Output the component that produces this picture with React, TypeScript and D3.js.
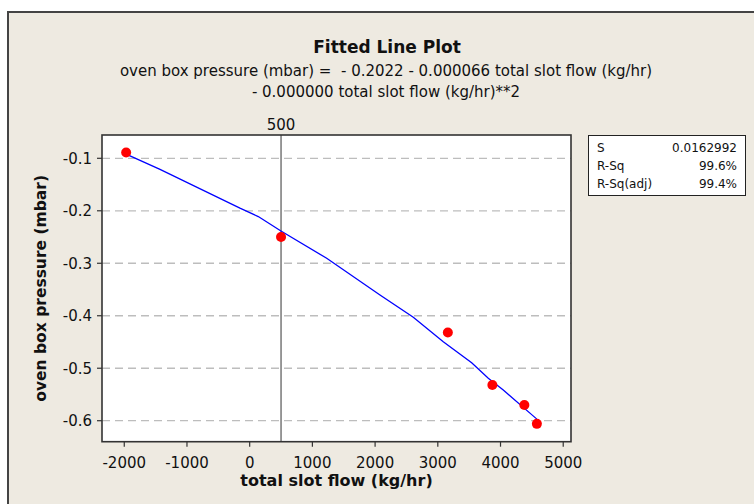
import * as d3 from 'd3';
import React from 'react';

// observed points (total slot flow, oven box pressure)
const flow = [-1970, 500, 3160, 3870, 4380, 4580];
const pressure = [-0.089, -0.25, -0.432, -0.532, -0.57, -0.606];

// fitted curve as drawn in the picture
const fitFlow = [-1970, -1430, -155, 137, 499, 1228, 2078, 2609, 3087, 3540, 3805, 4044, 4580];
const fitPressure = [-0.092, -0.121, -0.195, -0.211, -0.2385, -0.2905, -0.3605, -0.403, -0.4495, -0.4895, -0.519, -0.5415, -0.597];

const xTicks = [-2000, -1000, 0, 1000, 2000, 3000, 4000, 5000];
const yTicks = [-0.1, -0.2, -0.3, -0.4, -0.5, -0.6];
const yTickLabels = ['-0.1', '-0.2', '-0.3', '-0.4', '-0.5', '-0.6'];
const refLine = 500;

const statNames = ['S', 'R-Sq', 'R-Sq(adj)'];
const statValues = ['0.0162992', '99.6%', '99.4%'];

const params = {
    left: 102,
    right: 571,
    top: 135,
    bottom: 441.7,
};

const font = "'DejaVu Sans', Verdana, sans-serif";

export default function App() {
    const x = d3.scaleLinear().domain([-2355, 5124]).range([params.left, params.right]);
    const y = d3.scaleLinear().domain([-0.0556, -0.64]).range([params.top, params.bottom]);

    const line = d3.line<number>()
        .x(d => x(fitFlow[d]))
        .y(d => y(fitPressure[d]));

    const idx = fitFlow.map((_, i) => i);

    return (
        <svg width={754} height={504} style={{position: 'absolute', left: 0, top: 0}} fontFamily={font}>
            <rect x={0} y={0} width={754} height={504} fill="#ffffff"/>
            <rect x={8} y={12} width={760} height={500} fill="#eeeae1" stroke="#444" strokeWidth={2}/>

            <text x={387} y={53} textAnchor="middle" fontSize={17} fontWeight="bold" fill="#111">Fitted Line Plot</text>
            <text x={386} y={76} textAnchor="middle" fontSize={15} fill="#111" style={{whiteSpace: 'pre'}}>
                {'oven box pressure (mbar) =  - 0.2022 - 0.000066 total slot flow (kg/hr)'}
            </text>
            <text x={386} y={97} textAnchor="middle" fontSize={15} fill="#111">
                - 0.000000 total slot flow (kg/hr)**2
            </text>

            {/* plot area */}
            <rect x={params.left} y={params.top} width={params.right - params.left} height={params.bottom - params.top} fill="#fff"/>
            {yTicks.map(t => (
                <line key={'g' + t} x1={params.left} x2={params.right} y1={y(t)} y2={y(t)}
                    stroke="#bdbdbd" strokeWidth={1.3} strokeDasharray="8,5"/>
            ))}
            <line x1={x(refLine)} x2={x(refLine)} y1={params.top} y2={params.bottom} stroke="#555" strokeWidth={1.2}/>
            <text x={x(refLine)} y={130} textAnchor="middle" fontSize={15} fill="#111">{refLine}</text>

            <path d={line(idx) || ''} fill="none" stroke="#0000ff" strokeWidth={1.3}/>
            {flow.map((f, i) => (
                <circle key={i} cx={x(f)} cy={y(pressure[i])} r={5} fill="#ff0000"/>
            ))}

            <rect x={params.left} y={params.top} width={params.right - params.left} height={params.bottom - params.top}
                fill="none" stroke="#333" strokeWidth={1.6}/>

            {/* x axis */}
            {xTicks.map(t => (
                <g key={'x' + t}>
                    <line x1={x(t)} x2={x(t)} y1={params.bottom} y2={params.bottom + 5} stroke="#333" strokeWidth={1.2}/>
                    <text x={x(t)} y={468} textAnchor="middle" fontSize={15} fill="#111">{String(t)}</text>
                </g>
            ))}
            <text x={(params.left + params.right) / 2} y={486} textAnchor="middle" fontSize={16} fontWeight="bold" fill="#111">
                total slot flow (kg/hr)
            </text>

            {/* y axis */}
            {yTicks.map((t, i) => (
                <g key={'y' + t}>
                    <line x1={params.left - 5} x2={params.left} y1={y(t)} y2={y(t)} stroke="#333" strokeWidth={1.2}/>
                    <text x={92} y={y(t) + 5.5} textAnchor="end" fontSize={15} fill="#111">{yTickLabels[i]}</text>
                </g>
            ))}
            <text transform={`translate(46,${(params.top + params.bottom) / 2}) rotate(-90)`} textAnchor="middle"
                fontSize={15.5} fontWeight="bold" fill="#111">
                oven box pressure (mbar)
            </text>

            {/* stats box */}
            <rect x={588.5} y={135.5} width={157} height={60} fill="#fff" stroke="#222" strokeWidth={1}/>
            {statNames.map((n, i) => (
                <g key={n}>
                    <text x={597} y={152 + i * 18} fontSize={12} fill="#111">{n}</text>
                    <text x={737} y={152 + i * 18} fontSize={12} textAnchor="end" fill="#111">{statValues[i]}</text>
                </g>
            ))}
        </svg>
    );
}
